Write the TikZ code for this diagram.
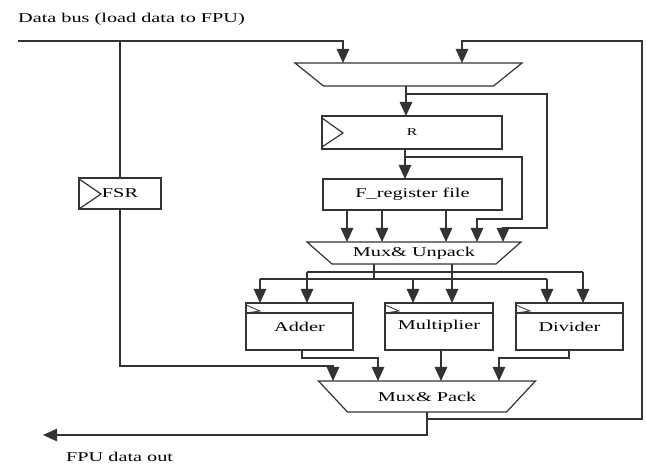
\documentclass[tikz,border=0pt]{standalone}
\usepackage{fontspec}
\setmainfont{Liberation Serif}
\usetikzlibrary{arrows.meta}
\newcommand{\wtext}[1]{\scalebox{1.5}[1]{#1}}
\begin{document}
\begin{tikzpicture}[x=1pt,y=-1pt,
  ln/.style={draw=black!80,line width=1.2pt},
  arr/.style={ln,-{Triangle[width=12.5pt,length=14pt]}},
  box/.style={draw=black!80,line width=1.2pt,rectangle,inner sep=0pt,outer sep=0pt,font=\fontsize{13.5}{16}\selectfont},
  muxbox/.style={rectangle,inner sep=0pt,outer sep=0pt,font=\fontsize{13.5}{16}\selectfont},
  lbl/.style={inner sep=0pt,font=\fontsize{13.5}{16}\selectfont}]

\useasboundingbox (0,0) rectangle (646,465);

% labels
\node[lbl,anchor=west] (dbl) at (18,19) {\wtext{Data bus (load data to FPU)}};
\node[lbl,anchor=west] (outl) at (66,457) {\wtext{FPU data out}};

% blocks
\node[muxbox,minimum width=227pt,minimum height=23pt] (mux1) at (408.5,74.5) {};
\draw[ln] (mux1.north west) -- (mux1.north east) -- ([xshift=-28.5pt]mux1.south east) -- ([xshift=28.5pt]mux1.south west) -- cycle;
\node[box,minimum width=180pt,minimum height=33pt] (R) at (412,132.5) {\fontsize{10.5}{12}\selectfont\wtext{R}};
\node[box,minimum width=179pt,minimum height=31pt] (F) at (412.5,194.5) {\wtext{F\_register file}};
\node[box,minimum width=82pt,minimum height=31pt] (fsr) at (120,193.5) {\wtext{FSR}};
\node[muxbox,minimum width=214pt,minimum height=22pt] (mux2) at (414,253) {\wtext{Mux\& Unpack}};
\draw[ln] (mux2.north west) -- (mux2.north east) -- ([xshift=-25pt]mux2.south east) -- ([xshift=25pt]mux2.south west) -- cycle;
\node[box,minimum width=107pt,minimum height=47pt] (add) at (299.5,326.5) {\wtext{Adder}};
\node[box,minimum width=108pt,minimum height=47pt] (mul) at (439,326.5) {\wtext{Multiplier}};
\node[box,minimum width=107pt,minimum height=47pt] (div) at (569.5,326.5) {\wtext{Divider}};
\node[muxbox,minimum width=217pt,minimum height=31pt] (mux3) at (427,396.5) {\wtext{Mux\& Pack}};
\draw[ln] (mux3.north west) -- (mux3.north east) -- ([xshift=-29pt]mux3.south east) -- ([xshift=29pt]mux3.south west) -- cycle;

% clock marks
\draw[ln] ([shift={(0,2)}]R.north west) -- ++(21,15) -- ++(-21,14);
\draw[ln] ([shift={(0,1)}]fsr.north west) -- ++(22,15) -- ++(-22,15);
\foreach \n in {add,mul,div}{
  \draw[ln] ([shift={(0,10)}]\n.north west) -- ([shift={(0,10)}]\n.north east);
  \draw[ln,line width=0.8pt] ([shift={(0,2)}]\n.north west) -- ++(14,6) -- ++(-14,2);
}

% data bus
\coordinate (dbs) at (18,41);
\draw[arr] (dbs) -| (343,0 |- mux1.north);
\coordinate (j1) at (120,41);
\draw[ln] (j1) -- (fsr.north);
\draw[arr] (fsr.south) |- (333,366) -- (333,0 |- mux3.north);

% output and feedback
\coordinate (fpuout) at (43,435);
\draw[arr] (mux3.south) |- (fpuout);
\coordinate (j2) at (427,419);
\draw[arr] (j2) -| (642,41) -| (462,0 |- mux1.north);

% top mux to R and bypass
\draw[arr] (406,0 |- mux1.south) -- (406,0 |- R.north);
\draw[arr] (406,94) -| (547,228) -| (503,0 |- mux2.north);
\draw[arr] (405,0 |- R.south) -- (405,0 |- F.north);
\draw[arr] (405,157) -| (522,219) -| (477,0 |- mux2.north);
\foreach \x in {347,382,446} \draw[arr] (\x,0 |- F.south) -- (\x,0 |- mux2.north);

% unpack outputs
\draw[ln] (374,0 |- mux2.south) -- (374,279);
\draw[ln] (260,279) -- (547,279);
\foreach \x/\n in {260/add,413/mul,547/div} \draw[arr] (\x,279) -- (\x,0 |- \n.north);
\draw[ln] (307,272) -- (583,272);
\draw[arr] (452,0 |- mux2.south) -- (452,0 |- mul.north);
\foreach \x/\n in {307/add,583/div} \draw[arr] (\x,272) -- (\x,0 |- \n.north);

% unit outputs to pack
\draw[arr] (302,0 |- add.south) |- (378,358) -- (378,0 |- mux3.north);
\draw[arr] (441,0 |- mul.south) -- (441,0 |- mux3.north);
\draw[arr] (569,0 |- div.south) |- (499,358) -- (499,0 |- mux3.north);
\end{tikzpicture}
\end{document}
